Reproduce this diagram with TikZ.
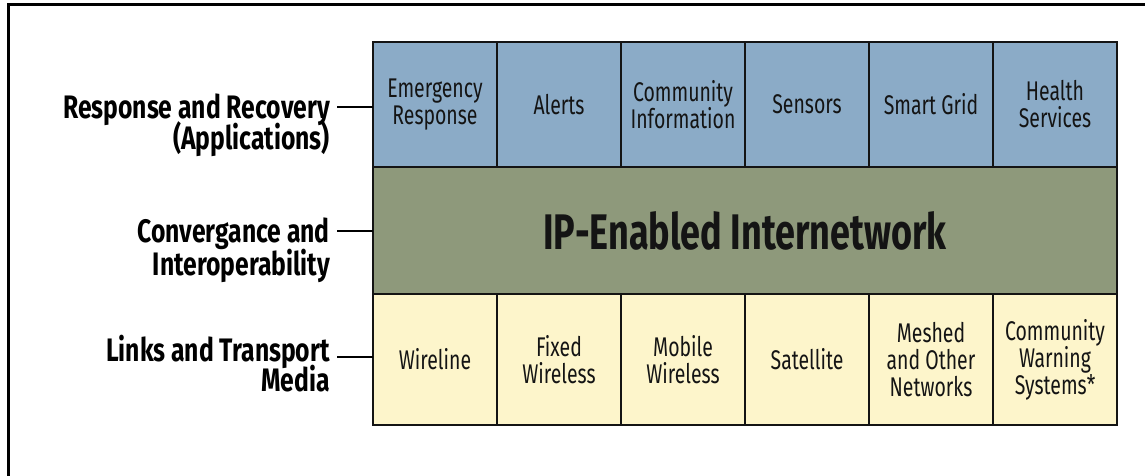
\documentclass[tikz,border=0pt]{standalone}
\usepackage{fontspec}
\setmainfont{Fira Sans}[FakeStretch=0.8]
\newfontfamily\cellfont{Fira Sans}[FakeStretch=0.72]
\newfontfamily\layerfont{Fira Sans}[FakeStretch=0.76]
\usetikzlibrary{positioning}

\definecolor{appblue}{HTML}{8BABC7}
\definecolor{netgreen}{HTML}{8E997B}
\definecolor{mediayellow}{HTML}{FDF5CB}
\definecolor{inkblack}{HTML}{141414}

\tikzset{
  cell/.style={draw=inkblack, line width=1.6pt, outer sep=0pt, inner sep=0pt,
    minimum width=124pt, align=center, text=inkblack,
    font=\cellfont\fontsize{27}{27}\selectfont},
  app/.style={cell, fill=appblue, minimum height=125pt},
  media/.style={cell, fill=mediayellow, minimum height=131pt},
  layer/.style={font=\layerfont\fontsize{32.5}{31}\selectfont\bfseries, text=black,
    inner sep=0pt, text height=22pt, text depth=0pt},
}

\begin{document}
\begin{tikzpicture}[x=1pt,y=1pt]
  \useasboundingbox (0,0) rectangle (1145,475);
  \draw[line width=3pt] (8,-20) -- (8,470) -- (1170,470);

  % applications row
  \node [app] (app1) at (435,370.5) {Emergency\\Response};
  \node [app, right=0pt of app1] (app2) {Alerts};
  \node [app, right=0pt of app2] (app3) {Community\\Information};
  \node [app, right=0pt of app3] (app4) {Sensors};
  \node [app, right=0pt of app4] (app5) {Smart Grid};
  \node [app, right=0pt of app5] (app6) {Health\\Services};

  % network row
  \node [cell, fill=netgreen, anchor=north west, minimum width=744pt, minimum height=127pt,
    font=\cellfont\fontsize{50}{50}\selectfont\bfseries] (net) at (app1.south west) {IP-Enabled Internetwork};

  % media row
  \node [media, anchor=north west] (media1) at (net.south west) {Wireline};
  \node [media, right=0pt of media1] (media2) {Fixed\\Wireless};
  \node [media, right=0pt of media2] (media3) {Mobile\\Wireless};
  \node [media, right=0pt of media3] (media4) {Satellite};
  \node [media, right=0pt of media4] (media5) {Meshed\\and Other\\Networks};
  \node [media, right=0pt of media5] (media6) {Community\\Warning\\Systems*};

  % layer labels
  \node [layer, anchor=east] (lapp) at (330,368) {Response and Recovery};
  \node [layer, anchor=north east] (lapp2) at ([yshift=-9pt]lapp.south east) {(Applications)};
  \node [layer, anchor=east] (lnet) at (330,244) {Convergance and};
  \node [layer, anchor=north east] (lnet2) at ([yshift=-11pt]lnet.south east) {Interoperability};
  \node [layer, anchor=east] (lmed) at (330,125) {Links and Transport};
  \node [layer, anchor=north east] (lmed2) at ([yshift=-8pt]lmed.south east) {Media};

  \draw[line width=1.6pt, shorten <=7pt] (lapp.east) -- (lapp.east -| app1.west);
  \draw[line width=1.6pt, shorten <=7pt] (lnet.east) -- (lnet.east -| net.west);
  \draw[line width=1.6pt, shorten <=7pt] ([yshift=-7pt]lmed.east) -- ([yshift=-7pt]lmed.east -| media1.west);
\end{tikzpicture}
\end{document}
